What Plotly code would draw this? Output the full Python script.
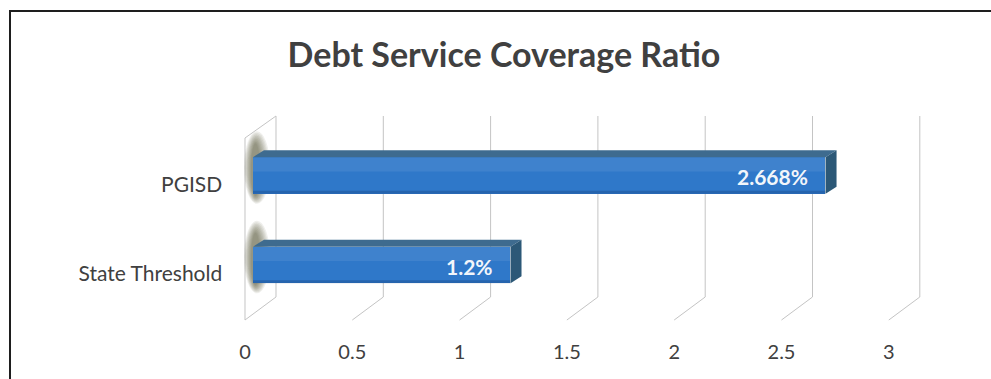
import plotly.graph_objects as go

# ---------------- data ----------------
categories = ["State Threshold", "PGISD"]
values = [1.2, 2.668]
value_labels = ["1.2%", "2.668%"]
x_ticks = [0, 0.5, 1, 1.5, 2, 2.5, 3]
x_tick_labels = ["0", "0.5", "1", "1.5", "2", "2.5", "3"]
title_text = "Debt Service Coverage Ratio"

# ---------------- layout geometry ----------------
W, H = 991, 379
S = 214.6          # px per unit on x
X0 = 253.0         # px of x=0 (bar front face)
XL, XR = -0.12, 3.4
YC0, YS = 265.0, 89.5   # px of category 0 centre, px per category step
Y_LO, Y_HI = -0.9, 1.9

def dxu(px):
    return px / S

def dyu(px):
    return px / YS

def ypx(py):
    return (YC0 - py) / YS

x_left_px = X0 + S * XL
x_domain = [x_left_px / W, (X0 + S * XR) / W]
y_domain = [(H - (YC0 - Y_LO * YS)) / H, (H - (YC0 - Y_HI * YS)) / H]

wall_front = dxu(245 - X0)
wall_back = dxu(276 - X0)
back_top, back_bot = ypx(116), ypx(297)
front_top, front_bot = ypx(138), ypx(320)

bar_w = 0.41
depth_x, depth_y = dxu(11), dyu(7)

FONT = "Lato"
TXT = "#404040"
GRID = "#c4c4c4"
FRONT = "#2f78c9"
TOP = "#3e6b8f"
SIDE = "#2c5877"

ypos = list(range(len(categories)))

fig = go.Figure()
fig.add_trace(go.Bar(
    x=values, y=ypos, orientation="h", width=bar_w,
    marker=dict(color=FRONT, line=dict(width=0)),
    hoverinfo="skip", showlegend=False,
))
# invisible helper trace for the tick-label axis
fig.add_trace(go.Scatter(x=[x_ticks[0]], y=[0], xaxis="x2", yaxis="y",
                         mode="markers", marker=dict(opacity=0),
                         hoverinfo="skip", showlegend=False))

shapes = []
# back wall grid lines + floor lines
for v in x_ticks:
    shapes.append(dict(type="line", xref="x", yref="y", layer="below",
                       x0=v + wall_back, x1=v + wall_back, y0=back_bot, y1=back_top,
                       line=dict(color=GRID, width=1)))
    shapes.append(dict(type="line", xref="x", yref="y", layer="below",
                       x0=v + wall_front, x1=v + wall_back, y0=front_bot, y1=back_bot,
                       line=dict(color=GRID, width=1)))
# left wall front edge and top edge
shapes.append(dict(type="line", xref="x", yref="y", layer="below",
                   x0=wall_front, x1=wall_front, y0=front_bot, y1=front_top,
                   line=dict(color=GRID, width=1)))
shapes.append(dict(type="line", xref="x", yref="y", layer="below",
                   x0=wall_front, x1=wall_back, y0=front_top, y1=back_top,
                   line=dict(color=GRID, width=1)))

for yc, v in zip(ypos, values):
    top = yc + bar_w / 2
    bot = yc - bar_w / 2
    # soft shadow at bar base (many faint stacked ellipses to fake a blur)
    n = 9
    for k in range(n):
        f = k / (n - 1)
        l = -9 + 7 * f
        r = 17 - 10 * f
        b = -10 + 8 * f
        t = 26 - 12 * f
        shapes.append(dict(type="circle", xref="x", yref="y", layer="below",
                           x0=dxu(l), x1=dxu(r), y0=bot + dyu(b), y1=top + dyu(t),
                           fillcolor="rgba(72,66,40,0.085)", line=dict(width=0)))
    # highlight on upper part of front face
    shapes.append(dict(type="rect", xref="x", yref="y", layer="above",
                       x0=0, x1=v, y0=top - 0.16, y1=top,
                       fillcolor="rgba(255,255,255,0.08)", line=dict(width=0)))
    shapes.append(dict(type="rect", xref="x", yref="y", layer="above",
                       x0=0, x1=v, y0=bot, y1=bot + 0.035,
                       fillcolor="rgba(10,40,90,0.25)", line=dict(width=0)))
    # top face
    shapes.append(dict(type="path", xref="x", yref="y", layer="above",
                       path=f"M 0 {top} L {v} {top} L {v + depth_x} {top + depth_y} "
                            f"L {depth_x} {top + depth_y} Z",
                       fillcolor=TOP, line=dict(width=0)))
    # side face
    shapes.append(dict(type="path", xref="x", yref="y", layer="above",
                       path=f"M {v} {top} L {v + depth_x} {top + depth_y} "
                            f"L {v + depth_x} {bot + depth_y} L {v} {bot} Z",
                       fillcolor=SIDE, line=dict(width=0)))

# chart frame (left and top edges visible)
fx, fy = 10 / W, 1 - 11 / H
shapes.append(dict(type="path", xref="paper", yref="paper",
                   path=f"M {fx} 0 L {fx} {fy} L 1.01 {fy}",
                   line=dict(color="#1e1e1e", width=2)))

annotations = []
for yc, v, lab in zip(ypos, values, value_labels):
    annotations.append(dict(x=v, y=yc, xref="x", yref="y", text=lab, showarrow=False,
                            xanchor="right", yanchor="middle", xshift=-16, yshift=-1,
                            font=dict(family=FONT, size=21, color="#f2f6fb", weight="bold")))

fig.update_layout(
    width=W, height=H, margin=dict(l=0, r=0, t=0, b=0),
    paper_bgcolor="white", plot_bgcolor="rgba(0,0,0,0)",
    title=dict(text=title_text, x=504 / W, xanchor="center", y=1 - 55 / H,
               yanchor="middle", yref="container",
               font=dict(family=FONT, size=34, color=TXT, weight="bold")),
    xaxis=dict(domain=x_domain, range=[XL, XR], showgrid=False, zeroline=False,
               showticklabels=False, showline=False, ticks=""),
    xaxis2=dict(overlaying="x", anchor="free", position=(H - 338) / H,
                range=[XL - wall_front, XR - wall_front], tickvals=x_ticks,
                ticktext=x_tick_labels, showgrid=False, zeroline=False, showline=False,
                ticks="", side="bottom",
                tickfont=dict(family=FONT, size=20, color=TXT)),
    yaxis=dict(domain=y_domain, range=[Y_LO, Y_HI], tickvals=ypos, ticktext=categories,
               showgrid=False, zeroline=False, showline=False, ticks="",
               ticklabelstandoff=max(0, round(x_left_px - 223)), ticklabelshift=9,
               tickfont=dict(family=FONT, size=21, color=TXT)),
    shapes=shapes, annotations=annotations, bargap=0,
)

fig.write_html("out.html")
